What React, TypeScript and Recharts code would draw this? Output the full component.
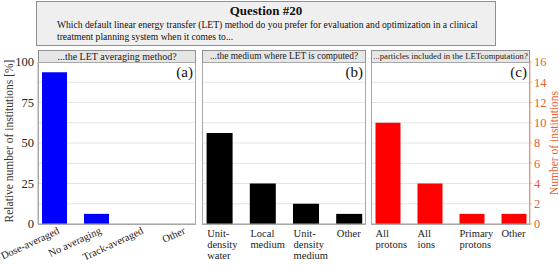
import { BarChart, Bar, XAxis, YAxis, CartesianGrid } from "recharts";

const TOTAL = 16;

const averagingLabels = ["Dose-averaged", "No averaging", "Track-averaged", "Other"];
const averagingCounts = [15, 1, 0, 0];

const mediumLabels = ["Unit-\ndensity\nwater", "Local\nmedium", "Unit-\ndensity\nmedium", "Other"];
const mediumCounts = [9, 4, 2, 1];

const particleLabels = ["All\nprotons", "All\nions", "Primary\nprotons", "Other"];
const particleCounts = [10, 4, 1, 1];

const percentTicks = [0, 12.5, 25, 37.5, 50, 62.5, 75, 87.5, 100];
const countTicks = [0, 2, 4, 6, 8, 10, 12, 14, 16];

const FONT = "'Liberation Serif', 'DejaVu Serif', serif";
const ORANGE = "#e4602f";

const toRows = (labels: string[], counts: number[]) =>
  labels.map((name, i) => ({ name, count: counts[i], pct: (counts[i] / TOTAL) * 100 }));

const averagingData = toRows(averagingLabels, averagingCounts);
const mediumData = toRows(mediumLabels, mediumCounts);
const particleData = toRows(particleLabels, particleCounts);

function RotatedTick({ x, y, payload }: any) {
  const ax = x + 6;
  const ay = y + 9;
  return (
    <text
      x={ax}
      y={ay}
      transform={`rotate(-25 ${ax} ${ay})`}
      textAnchor="end"
      fontSize={10.5}
      fontFamily={FONT}
      fill="#222"
    >
      {payload.value}
    </text>
  );
}

function StackedTick({ x, y, payload }: any) {
  const lines = String(payload.value).split("\n");
  return (
    <text x={x - 12} y={y + 12.5} textAnchor="start" fontSize={10.5} fontFamily={FONT} fill="#222">
      {lines.map((l, i) => (
        <tspan key={i} x={x - 12} dy={i === 0 ? 0 : 11}>
          {l}
        </tspan>
      ))}
    </text>
  );
}

const pctTick = (v: number) => (v % 25 === 0 ? String(v) : "");
const countTick = (v: number) => String(v);

function Panel({ left, width, title, tag, size }: { left: number; width: number; title: string; tag: string; size: number }) {
  return (
    <>
      <div
        style={{
          position: "absolute",
          left,
          top: 50,
          width,
          height: 13,
          boxSizing: "border-box",
          border: "1px solid #909090",
          background: "#e6e6e6",
          fontFamily: FONT,
          fontSize: size,
          lineHeight: "11px",
          textAlign: "center",
          color: "#222",
          whiteSpace: "nowrap",
          overflow: "hidden",
        }}
      >
        {title}
      </div>
      <div
        style={{
          position: "absolute",
          left,
          top: 62,
          width,
          height: 163,
          boxSizing: "border-box",
          border: "1px solid #a8a8a8",
          pointerEvents: "none",
        }}
      />
      <div
        style={{
          position: "absolute",
          left: left + width - 40,
          width: 37,
          top: 64,
          textAlign: "right",
          fontFamily: FONT,
          fontSize: 15,
          color: "#111",
        }}
      >
        {tag}
      </div>
    </>
  );
}

export default function App() {
  return (
    <div style={{ position: "absolute", left: 0, top: 0, width: 560, height: 266, background: "#fff", overflow: "hidden" }}>
      <div
        style={{
          position: "absolute",
          left: 36,
          top: 1,
          width: 460,
          height: 45,
          boxSizing: "border-box",
          border: "1px solid #909090",
          background: "#efefef",
          fontFamily: FONT,
          color: "#111",
        }}
      >
        <div style={{ textAlign: "center", fontWeight: "bold", fontSize: 13, lineHeight: "16px", marginTop: 1 }}>
          Question #20
        </div>
        <div style={{ fontSize: 9.6, lineHeight: "11.5px", paddingLeft: 20, paddingRight: 10 }}>
          Which default linear energy transfer (LET) method do you prefer for evaluation and optimization in a clinical
          treatment planning system when it comes to...
        </div>
      </div>

      {/* (a) */}
      <div style={{ position: "absolute", left: 0, top: 0 }}>
        <BarChart width={200} height={266} data={averagingData} margin={{ top: 62, right: 4, bottom: 0, left: 8 }}>
          <CartesianGrid vertical={false} stroke="#e4e4e4" />
          <XAxis
            dataKey="name"
            height={42}
            padding={{ left: -5, right: -5 }}
            tickLine={false}
            tickSize={0}
            tickMargin={0}
            axisLine={{ stroke: "#a8a8a8" }}
            tick={<RotatedTick />}
            interval={0}
          />
          <YAxis
            width={30}
            domain={[0, 100]}
            ticks={percentTicks}
            tickFormatter={pctTick}
            tickLine={false}
            tickSize={2}
            tickMargin={2}
            axisLine={{ stroke: "#a8a8a8" }}
            tick={{ fontSize: 12.5, fontFamily: FONT, fill: "#222" }}
            interval={0}
          />
          <Bar dataKey="pct" fill="#0000ff" barSize={25} isAnimationActive={false} />
        </BarChart>
      </div>

      {/* (b) */}
      <div style={{ position: "absolute", left: 200, top: 0 }}>
        <BarChart width={170} height={266} data={mediumData} margin={{ top: 62, right: 4, bottom: 0, left: 2 }}>
          <CartesianGrid vertical={false} stroke="#e4e4e4" />
          <XAxis
            dataKey="name"
            height={42}
            padding={{ left: -4.4, right: -4.4 }}
            tickLine={false}
            tickSize={0}
            tickMargin={0}
            axisLine={{ stroke: "#a8a8a8" }}
            tick={<StackedTick />}
            interval={0}
          />
          <YAxis hide domain={[0, 100]} ticks={percentTicks} interval={0} />
          <Bar dataKey="pct" fill="#000000" barSize={26} isAnimationActive={false} />
        </BarChart>
      </div>

      {/* (c) */}
      <div style={{ position: "absolute", left: 369, top: 0 }}>
        <BarChart width={191} height={266} data={particleData} margin={{ top: 62, right: 0, bottom: 0, left: 2 }}>
          <CartesianGrid vertical={false} stroke="#e4e4e4" />
          <XAxis
            dataKey="name"
            height={42}
            padding={{ left: -4.5, right: -4.5 }}
            tickLine={false}
            tickSize={0}
            tickMargin={0}
            axisLine={{ stroke: "#a8a8a8" }}
            tick={<StackedTick />}
            interval={0}
          />
          <YAxis
            orientation="right"
            width={30}
            domain={[0, 16]}
            ticks={countTicks}
            tickFormatter={countTick}
            tickSize={2}
            tickMargin={2}
            tickLine={{ stroke: "#f0b498" }}
            axisLine={{ stroke: "#f0b498" }}
            tick={{ fontSize: 12.5, fontFamily: FONT, fill: ORANGE }}
            interval={0}
          />
          <Bar dataKey="count" fill="#ff0000" barSize={25} isAnimationActive={false} />
        </BarChart>
      </div>

      <Panel left={38} width={158} title="...the LET averaging method?" tag="(a)" size={10} />
      <Panel left={202} width={164} title="...the medium where LET is computed?" tag="(b)" size={9.4} />
      <Panel left={371} width={159} title="...particles included in the LETcomputation?" tag="(c)" size={8.7} />

      <div
        style={{
          position: "absolute",
          left: 9,
          top: 141,
          transform: "translate(-50%, -50%) rotate(-90deg)",
          whiteSpace: "nowrap",
          fontFamily: FONT,
          fontSize: 11.5,
          color: "#333",
        }}
      >
        Relative number of institutions [%]
      </div>
      <div
        style={{
          position: "absolute",
          left: 554,
          top: 143,
          transform: "translate(-50%, -50%) rotate(-90deg)",
          whiteSpace: "nowrap",
          fontFamily: FONT,
          fontSize: 11.5,
          color: ORANGE,
        }}
      >
        Number of institutions
      </div>
    </div>
  );
}
